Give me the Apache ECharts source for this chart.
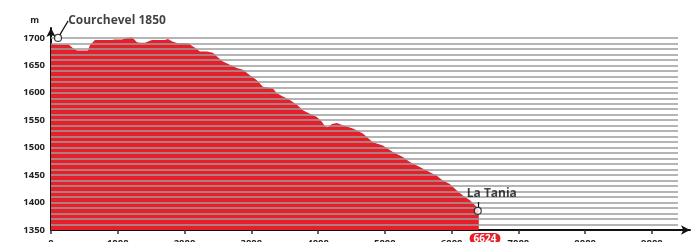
<!DOCTYPE html>
<html>
<head>
<meta charset="utf-8">
<script src="https://cdn.jsdelivr.net/npm/echarts@6/dist/echarts.min.js"></script>
<style>
  html, body { margin: 0; padding: 0; background: #fff; }
  #chart { width: 692px; height: 242px; }
</style>
</head>
<body>
<div id="chart"></div>
<script>
// profile: distance (m) / altitude (m)
const distances = [0, 105, 254, 284, 329, 389, 554, 584, 659, 763, 913, 958, 1063, 1108, 1213, 1287, 1332, 1407,
  1512, 1707, 1751, 1826, 1901, 2051, 2156, 2231, 2335, 2425, 2485, 2575, 2680, 2784, 2874, 2979, 3084, 3174,
  3323, 3383, 3473, 3578, 3683, 3772, 3877, 3982, 4057, 4102, 4147, 4207, 4281, 4371, 4521, 4671, 4820, 4970,
  5120, 5269, 5374, 5524, 5674, 5778, 5868, 5973, 6078, 6168, 6273, 6377, 6407];
const altitudes = [1689, 1688, 1688, 1686, 1681, 1677, 1677, 1687, 1696, 1696, 1696, 1697, 1697, 1699, 1701, 1692, 1691, 1691,
  1696, 1696, 1698, 1693, 1690, 1690, 1682, 1675, 1675, 1673, 1666, 1657, 1651, 1645, 1642, 1632, 1623, 1611,
  1608, 1599, 1593, 1587, 1578, 1568, 1562, 1556, 1547, 1539, 1537, 1543, 1545, 1541, 1535, 1526, 1510, 1504,
  1492, 1483, 1474, 1465, 1455, 1449, 1440, 1434, 1422, 1413, 1404, 1392, 1385];

const placeNames = ['Courchevel 1850', 'La Tania'];
const placeDist = [105, 6392];
const placeAlt = [1700, 1385];

const xTicks = [0, 1000, 2000, 3000, 4000, 5000, 6000, 7000, 8000, 9000];
const yTicks = [1350, 1400, 1450, 1500, 1550, 1600, 1650, 1700];
const totalLength = '6624';
const badgeAt = 6500;

const gridEnd = 9390;
const gridLevels = [];
for (let v = 1360; v <= 1700; v += 10) gridLevels.push(v);

const red = '#e6202b';
const font = 'Open Sans';

let chart = echarts.init(document.getElementById('chart'));
option = {
  animation: false,
  grid: { left: 51, right: 2, top: 28, bottom: 12, outerBoundsMode: 'none', containLabel: false },
  xAxis: {
    type: 'value',
    min: 0,
    max: 9570,
    splitLine: { show: false },
    axisLine: { lineStyle: { color: '#111', width: 2 }, symbol: ['none', 'arrow'], symbolSize: [7, 9] },
    axisTick: { customValues: xTicks, length: 4, lineStyle: { color: '#333', width: 1.5 } },
    axisLabel: {
      customValues: xTicks.concat([badgeAt]),
      margin: 3,
      formatter: v => v === badgeAt ? '{badge|' + totalLength + '}' : '{n|' + v + '}',
      rich: {
        n: { color: '#222', padding: [5, 0, 0, 0], fontFamily: font, fontWeight: 'bold', fontSize: 9.5 },
        badge: { backgroundColor: red, color: '#fff', borderRadius: 6, padding: [1, 4, 0, 4],
                 fontFamily: font, fontWeight: 'bold', fontSize: 10 }
      }
    }
  },
  yAxis: {
    type: 'value',
    min: 1350,
    max: 1718,
    name: 'm',
    nameLocation: 'end',
    nameGap: 3,
    nameTextStyle: { color: '#222', fontFamily: font, fontWeight: 'bold', fontSize: 9, align: 'right', padding: [0, 12, 0, 0] },
    splitLine: { show: false },
    axisLine: { show: true, lineStyle: { color: '#111', width: 2 }, symbol: ['none', 'arrow'], symbolSize: [7, 9] },
    axisTick: { show: false },
    axisLabel: { customValues: yTicks, margin: 6, color: '#222', fontFamily: font, fontWeight: 'bold', fontSize: 9.5,
                 formatter: v => String(v) }
  },
  series: [
    {
      name: 'profile',
      type: 'line',
      data: distances.map((d, i) => [d, altitudes[i]]),
      symbol: 'none',
      lineStyle: { width: 0 },
      areaStyle: { color: red, opacity: 1 },
      z: 2
    },
    {
      name: 'grid',
      type: 'line',
      data: [],
      z: 3,
      markLine: {
        silent: true,
        symbol: 'none',
        label: { show: false },
        lineStyle: { color: '#9d9d9d', width: 1.5, type: 'solid' },
        data: gridLevels.map(v => [{ coord: [0, v] }, { coord: [gridEnd, v] }])
      }
    },
    {
      name: 'places',
      type: 'scatter',
      z: 5,
      symbol: 'circle',
      symbolSize: 7,
      itemStyle: { color: '#fff', borderColor: '#111', borderWidth: 1.2 },
      data: placeNames.map((n, i) => ({
        name: n,
        value: [placeDist[i], placeAlt[i]],
        labelLine: { show: i === 0 }
      })),
      label: {
        show: true,
        position: 'inside',
        formatter: p => p.name,
        color: '#111',
        fontFamily: font,
        fontWeight: 'bold',
        fontSize: 12
      },
      labelLine: { show: true, lineStyle: { color: '#111', width: 1.2 } },
      labelLayout: p => p.dataIndex === 0 ? { dx: 59, dy: -17 } : { dx: 14, dy: -17 },
      markLine: {
        silent: true,
        symbol: 'none',
        label: { show: false },
        lineStyle: { color: '#111', width: 1.2, type: 'solid' },
        data: [[{ coord: [placeDist[1], placeAlt[1] + 6] }, { coord: [placeDist[1], placeAlt[1] + 16] }]]
      }
    }
  ]
};
chart.setOption(option);
</script>
</body>
</html>
